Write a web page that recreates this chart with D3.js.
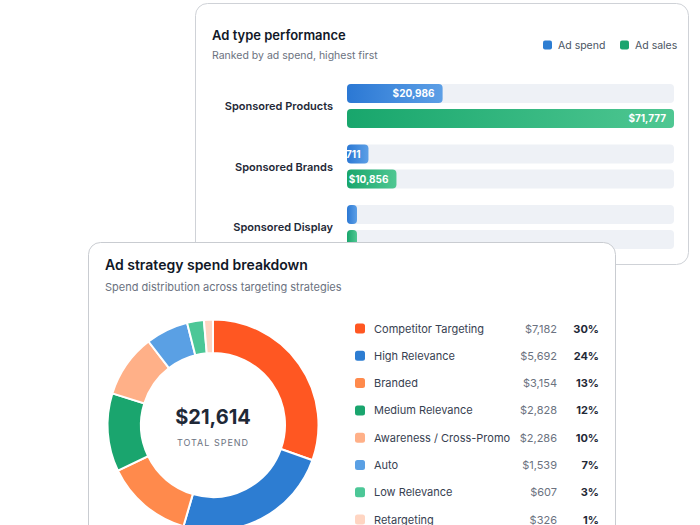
<!DOCTYPE html>
<html lang="en">
<head>
  <meta charset="UTF-8">
  <title>Ad performance cards</title>
  <style>
    html, body { margin: 0; padding: 0; background: #fff; }
    svg { display: block; font-family: Inter, "Noto Sans", sans-serif; }
  </style>
</head>
<body>
  <div id="chart"></div>

  <script src="https://d3js.org/d3.v7.min.js"></script>
  <script>
    // ---- data ----
    const adTypes = ['Sponsored Products', 'Sponsored Brands', 'Sponsored Display'];
    const adSpend = [20986, 4711, 1650];
    const adSales = [71777, 10856, 1700];
    const seriesNames = ['Ad spend', 'Ad sales'];

    const strategies = ['Competitor Targeting', 'High Relevance', 'Branded', 'Medium Relevance',
      'Awareness / Cross-Promo', 'Auto', 'Low Relevance', 'Retargeting'];
    const strategySpend = [7182, 5692, 3154, 2828, 2286, 1539, 607, 326];
    const strategyColors = ['#ff5722', '#2d7dd2', '#ff8a4c', '#1aa56e', '#ffb088', '#5aa0e4', '#4cc797', '#ffd5c2'];
    const totalLabel = '$21,614';

    const W = 700, H = 525;
    const fmt = d3.format('$,');

    const svg = d3.select('#chart').append('svg')
      .attr('width', W).attr('height', H)
      .attr('viewBox', `0 0 ${W} ${H}`);

    const defs = svg.append('defs');
    function gradient(id, from, to) {
      const g = defs.append('linearGradient').attr('id', id)
        .attr('x1', '0%').attr('x2', '100%').attr('y1', '0%').attr('y2', '0%');
      g.append('stop').attr('offset', '0%').attr('stop-color', from);
      g.append('stop').attr('offset', '100%').attr('stop-color', to);
    }
    gradient('spendGrad', '#2b78d4', '#5c9fe6');
    gradient('salesGrad', '#18a66c', '#4fc792');

    // ---- back card: ad type performance ----
    const back = svg.append('g');
    back.append('rect')
      .attr('x', 195.5).attr('y', 3.5).attr('width', 493).attr('height', 261)
      .attr('rx', 12).attr('fill', '#fff').attr('stroke', '#cfd2d7');

    back.append('text').attr('x', 212).attr('y', 39.5)
      .attr('font-size', 13).attr('font-weight', 600).attr('fill', '#111827')
      .text('Ad type performance');
    back.append('text').attr('x', 212).attr('y', 59)
      .attr('font-size', 10.5).attr('fill', '#6b7280')
      .text('Ranked by ad spend, highest first');

    // legend
    const legendX = [543, 620];
    const legend = back.selectAll('.lg').data(seriesNames).enter().append('g')
      .attr('transform', (d, i) => `translate(${legendX[i]},45)`);
    legend.append('rect').attr('x', 0).attr('y', -4.5).attr('width', 9).attr('height', 9).attr('rx', 2)
      .attr('fill', (d, i) => i === 0 ? '#2d7dd2' : '#1aa56e');
    legend.append('text').attr('x', 15).attr('y', 3.5)
      .attr('font-size', 10.5).attr('fill', '#4b5563').text(d => d);

    const x = d3.scaleLinear().domain([0, d3.max(adSales)]).range([0, 327]);
    const barX = 347, barH = 19, minW = 10;
    const groupStep = 60.5;

    const rows = back.selectAll('.row').data(adTypes).enter().append('g')
      .attr('transform', (d, i) => `translate(0,${84 + i * groupStep})`);

    rows.append('text')
      .attr('x', 333).attr('y', 26).attr('text-anchor', 'end')
      .attr('font-size', 11).attr('font-weight', 600).attr('fill', '#1f2937')
      .text(d => d);

    [adSpend, adSales].forEach((vals, s) => {
      const off = s * 25;
      rows.append('rect')
        .attr('x', barX).attr('y', off).attr('width', x.range()[1]).attr('height', barH)
        .attr('rx', 4).attr('fill', '#eef1f6');
      rows.append('clipPath').attr('id', (d, i) => `clip${s}_${i}`)
        .append('rect')
        .attr('x', barX).attr('y', off)
        .attr('width', (d, i) => Math.max(minW, x(vals[i]))).attr('height', barH).attr('rx', 4);
      rows.append('rect')
        .attr('x', barX).attr('y', off)
        .attr('width', (d, i) => Math.max(minW, x(vals[i]))).attr('height', barH)
        .attr('rx', 4).attr('fill', s === 0 ? 'url(#spendGrad)' : 'url(#salesGrad)');
      rows.append('text')
        .attr('clip-path', (d, i) => `url(#clip${s}_${i})`)
        .attr('x', (d, i) => barX + x(vals[i]) - 8).attr('y', off + barH / 2 + 3.5)
        .attr('text-anchor', 'end').attr('font-size', 10).attr('font-weight', 700)
        .attr('fill', '#fff')
        .text((d, i) => x(vals[i]) > 16 ? fmt(vals[i]) : '');
    });

    // ---- front card: strategy spend donut ----
    const front = svg.append('g');
    front.append('rect')
      .attr('x', 88.5).attr('y', 242.5).attr('width', 527).attr('height', 320)
      .attr('rx', 12).attr('fill', '#fff').attr('stroke', '#c9ccd1');

    front.append('text').attr('x', 105).attr('y', 270)
      .attr('font-size', 14).attr('font-weight', 600).attr('fill', '#111827')
      .text('Ad strategy spend breakdown');
    front.append('text').attr('x', 105).attr('y', 291)
      .attr('font-size', 11).attr('fill', '#6b7280')
      .text('Spend distribution across targeting strategies');

    const data = strategies.map((name, i) => ({ name, value: strategySpend[i], color: strategyColors[i] }));
    const sum = d3.sum(strategySpend);
    const pie = d3.pie().value(d => d.value).sort(null);
    const arc = d3.arc().innerRadius(72).outerRadius(105.5);

    const donut = front.append('g').attr('transform', 'translate(213,425)');
    donut.selectAll('path').data(pie(data)).enter().append('path')
      .attr('d', arc).attr('fill', d => d.data.color)
      .attr('stroke', '#fff').attr('stroke-width', 2);

    donut.append('text').attr('y', -1.5).attr('text-anchor', 'middle')
      .attr('font-size', 20).attr('font-weight', 700).attr('fill', '#1f2937')
      .text(totalLabel);
    donut.append('text').attr('y', 20.5).attr('text-anchor', 'middle')
      .attr('font-size', 9).attr('letter-spacing', 1).attr('fill', '#6b7280')
      .text('TOTAL SPEND');

    const item = front.selectAll('.item').data(data).enter().append('g')
      .attr('transform', (d, i) => `translate(355,${328.5 + i * 27.3})`);
    item.append('rect').attr('x', 0).attr('y', -5).attr('width', 10).attr('height', 10).attr('rx', 2.5)
      .attr('fill', d => d.color);
    item.append('text').attr('x', 19).attr('y', 4)
      .attr('font-size', 11).attr('fill', '#374151').text(d => d.name);
    item.append('text').attr('x', 202).attr('y', 4).attr('text-anchor', 'end')
      .attr('font-size', 11).attr('fill', '#6b7280').text(d => fmt(d.value));
    item.append('text').attr('x', 244).attr('y', 4).attr('text-anchor', 'end')
      .attr('font-size', 11).attr('font-weight', 700).attr('fill', '#1f2937')
      .text(d => Math.round(d.value / sum * 100) + '%');
  </script>
</body>
</html>
